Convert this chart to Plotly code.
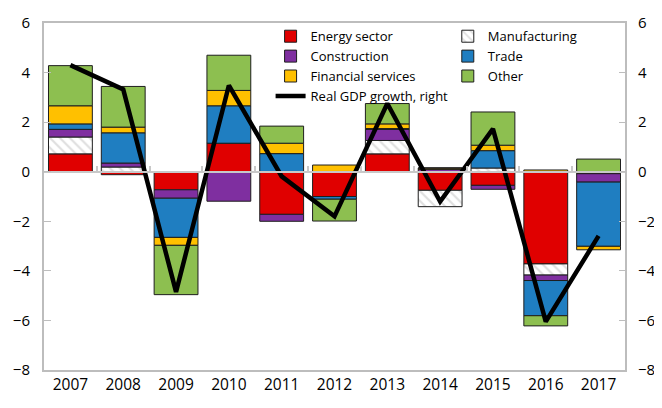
import plotly.graph_objects as go

years = ["2007", "2008", "2009", "2010", "2011", "2012", "2013", "2014", "2015", "2016", "2017"]
energy = [0.72, -0.12, -0.73, 1.15, -1.72, -1.00, 0.72, -0.75, -0.55, -3.72, -0.08]
manufacturing = [0.68, 0.19, 0.0, 0.0, 0.0, 0.0, 0.54, -0.66, 0.15, -0.45, 0.0]
construction = [0.31, 0.16, -0.34, -1.19, -0.28, 0.0, 0.45, 0.10, -0.16, -0.22, -0.34]
trade = [0.22, 1.22, -1.58, 1.51, 0.73, -0.11, 0.03, 0.0, 0.70, -1.42, -2.59]
financial = [0.73, 0.23, -0.32, 0.62, 0.42, 0.27, 0.19, 0.05, 0.22, 0.07, -0.14]
other = [1.62, 1.64, -1.99, 1.42, 0.69, -0.88, 0.82, 0.0, 1.34, -0.41, 0.51]
gdp = [4.30, 3.32, -4.85, 3.48, -0.19, -1.80, 2.75, -1.20, 1.73, -6.05, -2.59]
y_ticks = [-8, -6, -4, -2, 0, 2, 4, 6]

FONT = "Open Sans"
GRAY = "#BDBDBD"
OUT = dict(color="#1e1e1e", width=1)

fig = go.Figure()

def bar(name, vals, color, legend, pattern=None):
    marker = dict(color=color, line=OUT)
    if pattern:
        marker["pattern"] = pattern
    fig.add_trace(go.Bar(x=years, y=vals, name=name, marker=marker, legend=legend))

bar("Energy sector", energy, "#E00000", "legend")
bar("Manufacturing", manufacturing, "#FFFFFF", "legend2",
    pattern=dict(shape="\\", fgcolor="#BDBDBD", bgcolor="#FFFFFF", size=7, solidity=0.3))
bar("Construction", construction, "#7F2FA0", "legend")
bar("Trade", trade, "#1F7EC1", "legend2")
bar("Financial services", financial, "#FFC000", "legend")
bar("Other", other, "#8DBF50", "legend2")

fig.add_trace(go.Scatter(x=years, y=gdp, name="Real GDP growth, right", mode="lines",
                         line=dict(color="#000000", width=4.5), yaxis="y2", legend="legend"))

# helper axis for zero line with boundary ticks
fig.add_trace(go.Scatter(x=[None], y=[None], xaxis="x2", yaxis="y", showlegend=False,
                         hoverinfo="skip"))

# page body has an 8px default margin, so the figure is sized to fit the window
fig.update_layout(
    width=654, height=400,
    margin=dict(l=36, r=37, t=15, b=38, autoexpand=False),
    paper_bgcolor="white", plot_bgcolor="white",
    barmode="relative", bargap=0.17,
    font=dict(family=FONT, size=15, color="#000000"),
    xaxis=dict(type="category", showline=True, linecolor=GRAY, linewidth=1.5, mirror=True,
               ticks="", tickfont=dict(size=15.5), ticklabelstandoff=0, showgrid=False,
               automargin=False),
    xaxis2=dict(overlaying="x", anchor="free", position=8 / 14, range=[-0.5, len(years) - 0.5],
                showline=True, linecolor="#C8C8C8", linewidth=2, ticks="inside", ticklen=5,
                tickcolor="#C8C8C8", tickwidth=1.5,
                tickvals=[i + 0.5 for i in range(len(years) - 1)],
                showticklabels=False, showgrid=False, zeroline=False, automargin=False),
    yaxis=dict(range=[-8, 6], tickvals=y_ticks, showline=True, linecolor=GRAY, linewidth=2,
               ticks="inside", ticklen=7, tickcolor=GRAY, showgrid=False, zeroline=False,
               ticklabelstandoff=9, automargin=False),
    yaxis2=dict(range=[-8, 6], tickvals=y_ticks, overlaying="y", side="right", showline=True,
                linecolor=GRAY, linewidth=2, ticks="inside", ticklen=6, tickcolor=GRAY,
                showgrid=False, zeroline=False, ticklabelstandoff=8, automargin=False),
    legend=dict(x=0.390, y=1.005, xanchor="left", yanchor="top", traceorder="normal",
                orientation="v", font=dict(size=13), bgcolor="rgba(0,0,0,0)", tracegroupgap=0),
    legend2=dict(x=0.695, y=1.005, xanchor="left", yanchor="top", traceorder="normal",
                 orientation="v", font=dict(size=13), bgcolor="rgba(0,0,0,0)", tracegroupgap=0),
)

fig.write_html("out.html")
